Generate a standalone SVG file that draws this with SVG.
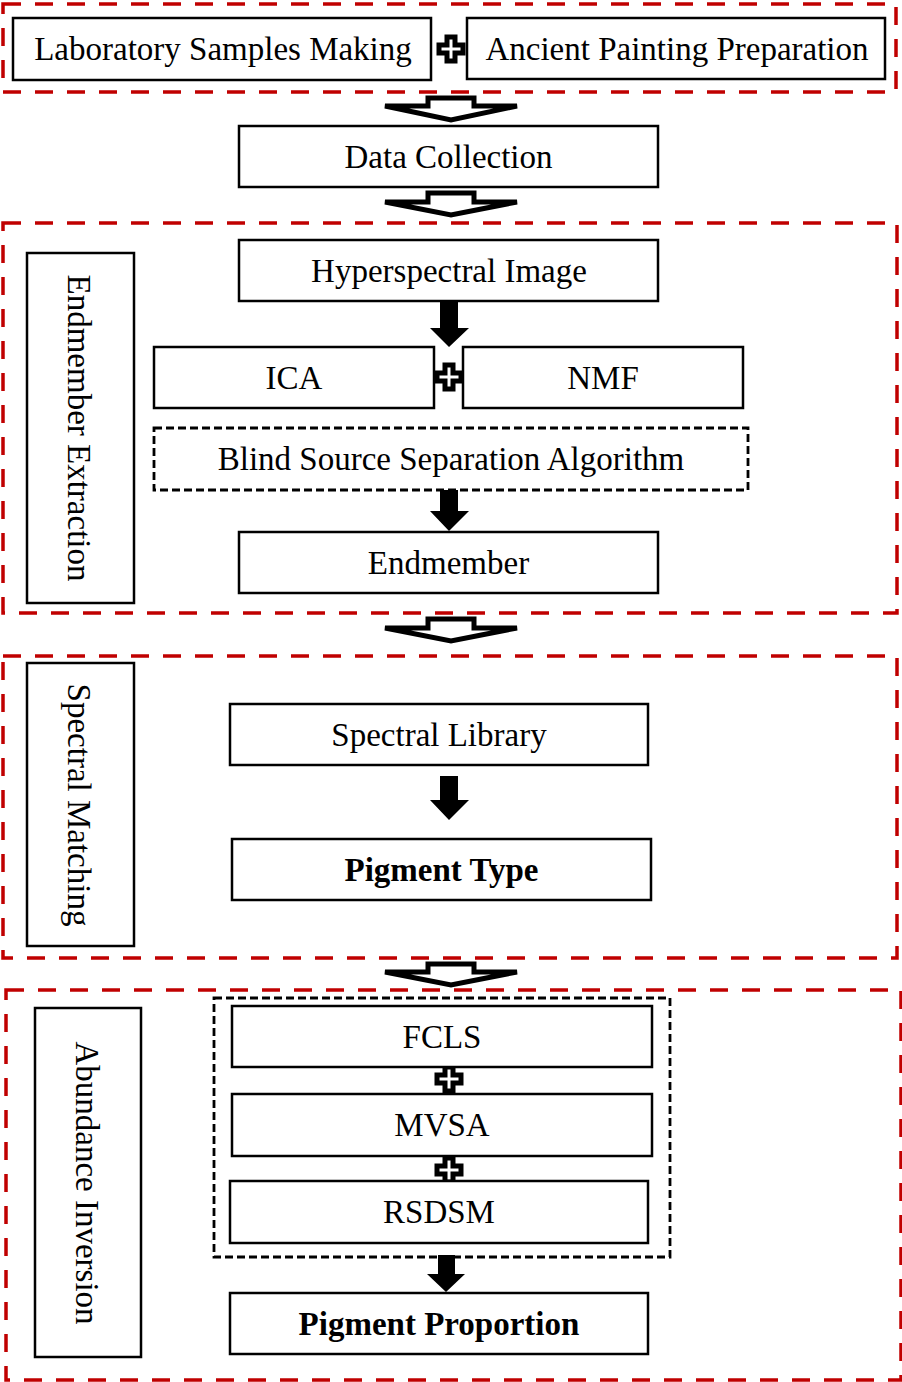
<svg xmlns="http://www.w3.org/2000/svg" width="902" height="1382" viewBox="0 0 902 1382">
<style>
.bg{fill:#fff}
.red{fill:none;stroke:#C00000;stroke-width:3.5;stroke-dasharray:18 14}
.bd{fill:none;stroke:#000;stroke-width:2.8;stroke-dasharray:8 4}
.box{fill:#fff;stroke:#000;stroke-width:2.5}
.t{font-family:"Liberation Serif","Times New Roman",serif;font-size:33px;fill:#000;text-anchor:middle}
.b{font-weight:bold}
.hol{fill:#fff;stroke:#000;stroke-width:5;stroke-linejoin:miter}
.sol{fill:#000;stroke:none}
.plus{fill:#fff;stroke:#000;stroke-width:5}
</style>
<defs>
<path id="plus" class="plus" d="M-4,-12 H4 V-4 H12 V4 H4 V12 H-4 V4 H-12 V-4 H-4 Z"/>
</defs>
<rect class="bg" x="0" y="0" width="902" height="1382"/>

<g id="groups">
<rect class="red" x="3" y="4" width="893" height="88"/>
<rect class="red" x="3" y="223" width="894" height="390"/>
<rect class="red" x="3" y="656" width="894" height="302"/>
<rect class="red" x="6" y="990" width="895" height="390"/>
<rect class="bd" x="214" y="998" width="456" height="259"/>
</g>

<g id="connectors">
<polygon class="hol" points="428,98 474,98 474,106 517,106 451,120 385,106 428,106"/>
<polygon class="hol" points="428,193 474,193 474,202 517,202 451,215 385,202 428,202"/>
<polygon class="hol" points="428,619 474,619 474,628 517,628 451,641 385,628 428,628"/>
<polygon class="hol" points="428,964 474,964 474,972 517,972 451,985 385,972 428,972"/>
<polygon class="sol" points="440,301 458,301 458,328 469,328 449,347 430,328 440,328"/>
<polygon class="sol" points="440,490 458,490 458,511 469,511 449,531 430,511 440,511"/>
<polygon class="sol" points="440,776 458,776 458,800 469,800 449,820 430,800 440,800"/>
<polygon class="sol" points="438,1255 455,1255 455,1274 465,1274 446,1292 427,1274 438,1274"/>
<use href="#plus" x="451" y="49"/>
<use href="#plus" x="449" y="377"/>
<use href="#plus" x="449" y="1079"/>
<use href="#plus" x="449" y="1170"/>
</g>

<g id="lab"><rect class="box" x="13" y="18" width="418" height="62"/><text class="t" x="223" y="60">Laboratory Samples Making</text></g>
<g id="ancient"><rect class="box" x="467" y="18" width="418" height="61"/><text class="t" x="677" y="60">Ancient Painting Preparation</text></g>
<g id="datacollection"><rect class="box" x="239" y="126" width="419" height="61"/><text class="t" x="448.5" y="168">Data Collection</text></g>

<g id="endmember-label"><rect class="box" x="27" y="253" width="107" height="350"/><text class="t" transform="translate(68,428) rotate(90)">Endmember Extraction</text></g>
<g id="hyperspectral"><rect class="box" x="239" y="240" width="419" height="61"/><text class="t" x="449" y="282">Hyperspectral Image</text></g>
<g id="ica"><rect class="box" x="154" y="347" width="280" height="61"/><text class="t" x="294" y="389">ICA</text></g>
<g id="nmf"><rect class="box" x="463" y="347" width="280" height="61"/><text class="t" x="603" y="389">NMF</text></g>
<g id="bss"><rect x="154" y="428" width="594" height="62" fill="#fff" class="bd"/><text class="t" x="451" y="470">Blind Source Separation Algorithm</text></g>
<g id="endmember"><rect class="box" x="239" y="532" width="419" height="61"/><text class="t" x="448.5" y="574">Endmember</text></g>

<g id="spectral-label"><rect class="box" x="27" y="663" width="107" height="283"/><text class="t" transform="translate(68,805) rotate(90)">Spectral Matching</text></g>
<g id="library"><rect class="box" x="230" y="704" width="418" height="61"/><text class="t" x="439" y="746">Spectral Library</text></g>
<g id="pigmenttype"><rect class="box" x="232" y="839" width="419" height="61"/><text class="t b" x="441.5" y="881">Pigment Type</text></g>

<g id="abundance-label"><rect class="box" x="35" y="1008" width="106" height="349"/><text class="t" transform="translate(76,1183) rotate(90)">Abundance Inversion</text></g>
<g id="fcls"><rect class="box" x="232" y="1006" width="420" height="61"/><text class="t" x="442" y="1048">FCLS</text></g>
<g id="mvsa"><rect class="box" x="232" y="1094" width="420" height="62"/><text class="t" x="442" y="1136">MVSA</text></g>
<g id="rsdsm"><rect class="box" x="230" y="1181" width="418" height="62"/><text class="t" x="439" y="1223">RSDSM</text></g>
<g id="proportion"><rect class="box" x="230" y="1293" width="418" height="61"/><text class="t b" x="439" y="1335">Pigment Proportion</text></g>
</svg>
